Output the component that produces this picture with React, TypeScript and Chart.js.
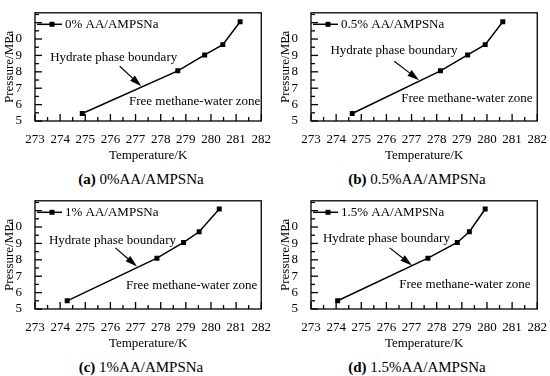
import React, { useEffect, useRef } from 'react';
import { Chart, registerables } from 'chart.js';

Chart.register(...registerables);

// ---- data ----
const xTickLabels = [273, 274, 275, 276, 277, 278, 279, 280, 281, 282];
const yTickLabels = [5, 6, 7, 8, 9, 10];
const yMajorTicks = [5, 6, 7, 8, 9, 10, 11];

const temperatureA = [274.88, 278.68, 279.75, 280.47, 281.16];
const pressureA = [5.46, 8.06, 9.03, 9.66, 11.05];

const temperatureB = [274.64, 278.15, 279.23, 279.93, 280.63];
const pressureB = [5.46, 8.06, 9.03, 9.66, 11.05];

const temperatureC = [274.28, 277.85, 278.91, 279.53, 280.33];
const pressureC = [5.5, 8.1, 9.06, 9.71, 11.1];

const temperatureD = [274.06, 277.65, 278.82, 279.3, 279.93];
const pressureD = [5.5, 8.1, 9.06, 9.71, 11.1];

const seriesLabels = ['0% AA/AMPSNa', '0.5% AA/AMPSNa', '1% AA/AMPSNa', '1.5% AA/AMPSNa'];
const captionTags = ['(a)', '(b)', '(c)', '(d)'];
const captionTexts = ['0%AA/AMPSNa', '0.5%AA/AMPSNa', '1%AA/AMPSNa', '1.5%AA/AMPSNa'];

const boundaryText = 'Hydrate phase boundary';
const zoneText = 'Free methane-water zone';
const xTitle = 'Temperature/K';
const yTitle = 'Pressure/MPa';

// annotation anchors in data coordinates (temperature, pressure)
const annotations = [
  { text: [276.13, 8.84], arrowFrom: [276.37, 8.34], arrowTo: [277.23, 7.12], zone: [279.35, 6.2] },
  { text: [276.3, 9.3], arrowFrom: [276.31, 8.65], arrowTo: [277.3, 7.49], zone: [279.2, 6.35] },
  { text: [276.08, 9.15], arrowFrom: [276.2, 8.73], arrowTo: [277.06, 7.59], zone: [279.23, 6.42] },
  { text: [276.0, 9.29], arrowFrom: [276.13, 8.73], arrowTo: [277.02, 7.66], zone: [279.12, 6.46] },
];

const FONT = "'Liberation Serif', 'Times New Roman', serif";
const W = 274;
const H = 165;

function tickLine(ctx: CanvasRenderingContext2D, x0: number, y0: number, x1: number, y1: number) {
  ctx.beginPath();
  ctx.moveTo(x0, y0);
  ctx.lineTo(x1, y1);
  ctx.stroke();
}

const overlayPlugin = {
  id: 'overlay',
  afterDraw(chart: any, _args: any, opts: any) {
    const ctx: CanvasRenderingContext2D = chart.ctx;
    const a = chart.chartArea;
    const x = chart.scales.x;
    const y = chart.scales.y;
    ctx.save();
    ctx.strokeStyle = '#000';
    ctx.fillStyle = '#000';
    ctx.lineWidth = 1.3;
    ctx.strokeRect(a.left, a.top, a.right - a.left, a.bottom - a.top);
    // inward ticks (major + minor halves)
    ctx.lineWidth = 1.3;
    xTickLabels.forEach((v, i) => {
      const px = x.getPixelForValue(v);
      tickLine(ctx, px, a.bottom, px, a.bottom - 7);
      if (i < xTickLabels.length - 1) {
        const pm = x.getPixelForValue(v + 0.5);
        tickLine(ctx, pm, a.bottom, pm, a.bottom - 4);
      }
    });
    yMajorTicks.forEach((v) => {
      const py = y.getPixelForValue(v);
      tickLine(ctx, a.left, py, a.left + 7, py);
      const pm = y.getPixelForValue(v + 0.5);
      if (pm > a.top + 1) tickLine(ctx, a.left, pm, a.left + 4, pm);
    });
    // legend
    const ds = chart.data.datasets[0];
    const ly = a.top + 11.5;
    ctx.lineWidth = 1.5;
    tickLine(ctx, a.left + 2, ly, a.left + 27, ly);
    ctx.fillRect(a.left + 17 - 2.5, ly - 2.5, 5, 5);
    ctx.font = `13px ${FONT}`;
    ctx.textBaseline = 'middle';
    ctx.textAlign = 'left';
    ctx.fillText(ds.label, a.left + 30, ly);
    // annotations
    const an = opts.ann;
    ctx.textAlign = 'center';
    ctx.fillText(boundaryText, x.getPixelForValue(an.text[0]), y.getPixelForValue(an.text[1]));
    ctx.fillText(zoneText, x.getPixelForValue(an.zone[0]), y.getPixelForValue(an.zone[1]));
    const x0 = x.getPixelForValue(an.arrowFrom[0]);
    const y0 = y.getPixelForValue(an.arrowFrom[1]);
    const x1 = x.getPixelForValue(an.arrowTo[0]);
    const y1 = y.getPixelForValue(an.arrowTo[1]);
    const ang = Math.atan2(y1 - y0, x1 - x0);
    const hl = 12;
    const hw = 3.5;
    const bx = x1 - hl * Math.cos(ang);
    const by = y1 - hl * Math.sin(ang);
    ctx.lineWidth = 1.2;
    tickLine(ctx, x0, y0, bx, by);
    ctx.beginPath();
    ctx.moveTo(x1, y1);
    ctx.lineTo(bx + hw * Math.sin(ang), by - hw * Math.cos(ang));
    ctx.lineTo(bx - hw * Math.sin(ang), by + hw * Math.cos(ang));
    ctx.closePath();
    ctx.fill();
    ctx.restore();
  },
};

function Panel({ idx, temps, press }: { idx: number; temps: number[]; press: number[] }) {
  const ref = useRef<HTMLCanvasElement>(null);
  useEffect(() => {
    if (!ref.current) return;
    const chart = new Chart(ref.current, {
      type: 'line',
      data: {
        datasets: [
          {
            label: seriesLabels[idx],
            data: temps.map((t, i) => ({ x: t, y: press[i] })),
            borderColor: '#000',
            backgroundColor: '#000',
            borderWidth: 1.5,
            pointStyle: 'rect',
            pointRadius: 3.5,
            pointBorderWidth: 0,
            tension: 0,
          },
        ],
      },
      options: {
        responsive: false,
        animation: false,
        layout: { padding: { top: 2, right: W - 262, left: 0, bottom: 0 } },
        plugins: {
          legend: { display: false },
          tooltip: { enabled: false },
          overlay: { ann: annotations[idx] },
        } as any,
        scales: {
          x: {
            type: 'linear',
            min: xTickLabels[0],
            max: xTickLabels[xTickLabels.length - 1],
            grid: { display: false },
            border: { display: false },
            afterFit: (s: any) => { s.height = H - 121; },
            ticks: {
              stepSize: 1,
              autoSkip: false,
              padding: 3,
              color: '#000',
              font: { family: FONT, size: 13 },
              maxRotation: 0,
              callback: (v: any) => (xTickLabels.includes(Number(v)) ? String(v) : ''),
            },
            title: {
              display: true,
              text: xTitle,
              color: '#000',
              font: { family: FONT, size: 13 },
              padding: { top: 0, bottom: 2 },
            },
          },
          y: {
            type: 'linear',
            min: 5,
            max: 11.6,
            grid: { display: false },
            border: { display: false },
            afterFit: (s: any) => { s.width = 35; },
            ticks: {
              stepSize: 1,
              autoSkip: false,
              includeBounds: false,
              padding: 5,
              color: '#000',
              font: { family: FONT, size: 13 },
              callback: (v: any) => (yTickLabels.includes(Number(v)) ? String(v) : ''),
            },
            title: {
              display: true,
              text: yTitle,
              color: '#000',
              font: { family: FONT, size: 13 },
              padding: { top: 2, bottom: 0 },
            },
          },
        },
      } as any,
      plugins: [overlayPlugin],
    });
    return () => chart.destroy();
  }, [idx, temps, press]);

  const left = (idx % 2) * 276;
  const top = Math.floor(idx / 2) * 188;
  return (
    <div style={{ position: 'absolute', left, top, width: W, height: 188 }}>
      <canvas ref={ref} width={W} height={H} style={{ position: 'absolute', left: 0, top: 0, width: W, height: H }} />
      <div
        style={{
          position: 'absolute',
          left: 0,
          width: 282,
          top: 171,
          textAlign: 'center',
          fontFamily: FONT,
          fontSize: 15,
          lineHeight: '17px',
          color: '#000',
          whiteSpace: 'nowrap',
        }}
      >
        <b>{captionTags[idx]}</b> {captionTexts[idx]}
      </div>
    </div>
  );
}

export default function App() {
  return (
    <div style={{ position: 'absolute', left: 0, top: 0, width: 550, height: 376, background: '#fff' }}>
      <Panel idx={0} temps={temperatureA} press={pressureA} />
      <Panel idx={1} temps={temperatureB} press={pressureB} />
      <Panel idx={2} temps={temperatureC} press={pressureC} />
      <Panel idx={3} temps={temperatureD} press={pressureD} />
    </div>
  );
}
